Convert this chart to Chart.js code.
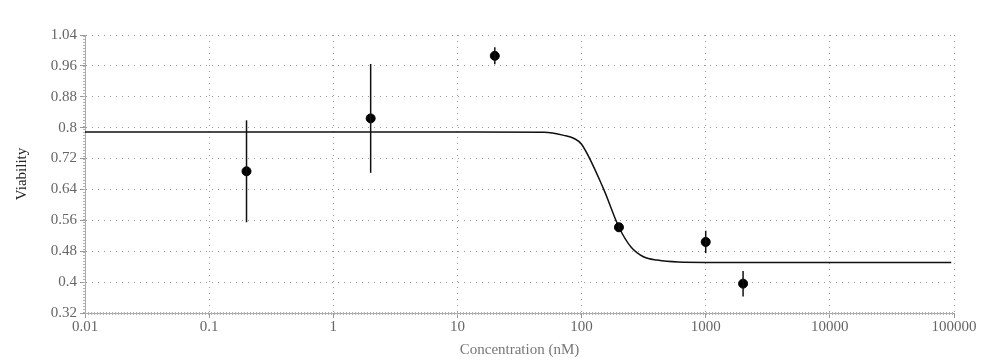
<!DOCTYPE html>
<html>
<head>
<meta charset="utf-8">
<script src="https://cdn.jsdelivr.net/npm/chart.js@4/dist/chart.umd.min.js"></script>
<style>
html,body{margin:0;padding:0;background:#fff;}
#wrap{width:992px;height:362px;}
</style>
</head>
<body>
<div id="wrap"><canvas id="c" width="992" height="362"></canvas></div>
<script>
// measured points
const concentrations = [0.2, 2, 20, 200, 1000, 2000];
const viability = [0.687, 0.824, 0.986, 0.542, 0.504, 0.396];
const viabilityErr = [0.132, 0.141, 0.022, 0.012, 0.029, 0.033];
// fitted curve
const curveX = [0.01, 10, 50, 72, 87, 100, 150, 200, 250, 318, 407, 600, 1000, 95000];
const curveY = [0.789, 0.789, 0.788, 0.780, 0.772, 0.757, 0.642, 0.542, 0.491, 0.465, 0.457, 0.452, 0.451, 0.451];
// tick labels
const xTicks = [0.01, 0.1, 1, 10, 100, 1000, 10000, 100000];
const yTicks = [0.32, 0.4, 0.48, 0.56, 0.64, 0.72, 0.8, 0.88, 0.96, 1.04];

const FONT = "'Liberation Serif', 'Times New Roman', serif";

const errorBars = {
  id: 'errorBars',
  afterDatasetsDraw(chart) {
    const ctx = chart.ctx, xs = chart.scales.x, ys = chart.scales.y;
    ctx.save();
    ctx.strokeStyle = '#111';
    ctx.lineWidth = 1.5;
    concentrations.forEach((c, i) => {
      const px = xs.getPixelForValue(c);
      ctx.beginPath();
      ctx.moveTo(px, ys.getPixelForValue(viability[i] + viabilityErr[i]));
      ctx.lineTo(px, ys.getPixelForValue(viability[i] - viabilityErr[i]));
      ctx.stroke();
    });
    ctx.restore();
  }
};

const minorTicks = {
  id: 'minorTicks',
  beforeDatasetsDraw(chart) {
    const ctx = chart.ctx, a = chart.chartArea;
    ctx.save();
    ctx.strokeStyle = '#b0b0b0';
    ctx.lineWidth = 3;
    ctx.setLineDash([1, 2]);
    ctx.beginPath();
    ctx.moveTo(a.left - 0.5, a.bottom);
    ctx.lineTo(a.left - 0.5, a.top);
    ctx.stroke();
    ctx.beginPath();
    ctx.moveTo(a.left, a.bottom + 0.5);
    ctx.lineTo(a.right, a.bottom + 0.5);
    ctx.stroke();
    ctx.restore();
  }
};

const gridOpts = {
  color: '#9a9a9a',
  lineWidth: 1,
  tickLength: 5,
  tickColor: '#999',
  tickBorderDash: [],
  tickWidth: 1
};
const borderOpts = {color: '#a8a8a8', width: 1, dash: [1, 5]};

new Chart(document.getElementById('c'), {
  type: 'scatter',
  data: {
    datasets: [
      {
        type: 'line',
        data: curveX.map((x, i) => ({x, y: curveY[i]})),
        borderColor: '#111',
        borderWidth: 1.5,
        pointRadius: 0,
        cubicInterpolationMode: 'monotone',
        fill: false,
        order: 2
      },
      {
        data: concentrations.map((x, i) => ({x, y: viability[i]})),
        backgroundColor: '#000',
        borderColor: '#000',
        pointRadius: 4.5,
        pointHoverRadius: 4.5,
        order: 1
      }
    ]
  },
  plugins: [minorTicks, errorBars],
  options: {
    responsive: false,
    animation: false,
    events: [],
    layout: {padding: {top: 35, right: 38, left: 0, bottom: 0}},
    plugins: {legend: {display: false}, tooltip: {enabled: false}},
    scales: {
      x: {
        type: 'logarithmic',
        min: 0.01,
        max: 100000,
        afterFit(s) { s.height = 49; },
        afterBuildTicks(s) { s.ticks = xTicks.map(v => ({value: v})); },
        border: borderOpts,
        grid: gridOpts,
        ticks: {
          autoSkip: false,
          maxRotation: 0,
          padding: 0,
          color: '#666',
          font: {family: FONT, size: 15},
          callback: v => String(v)
        },
        title: {
          display: true,
          text: 'Concentration (nM)',
          color: '#777',
          font: {family: FONT, size: 15},
          padding: {top: 0, bottom: 3}
        }
      },
      y: {
        type: 'linear',
        min: 0.32,
        max: 1.04,
        afterFit(s) { s.width = 85; },
        afterBuildTicks(s) { s.ticks = yTicks.map(v => ({value: v})); },
        border: borderOpts,
        grid: gridOpts,
        ticks: {
          padding: 3,
          color: '#666',
          font: {family: FONT, size: 15},
          callback: v => String(parseFloat(Number(v).toFixed(2)))
        },
        title: {
          display: true,
          text: 'Viability',
          color: '#222',
          font: {family: FONT, size: 15},
          padding: {top: 13, bottom: 0}
        }
      }
    }
  }
});
</script>
</body>
</html>
